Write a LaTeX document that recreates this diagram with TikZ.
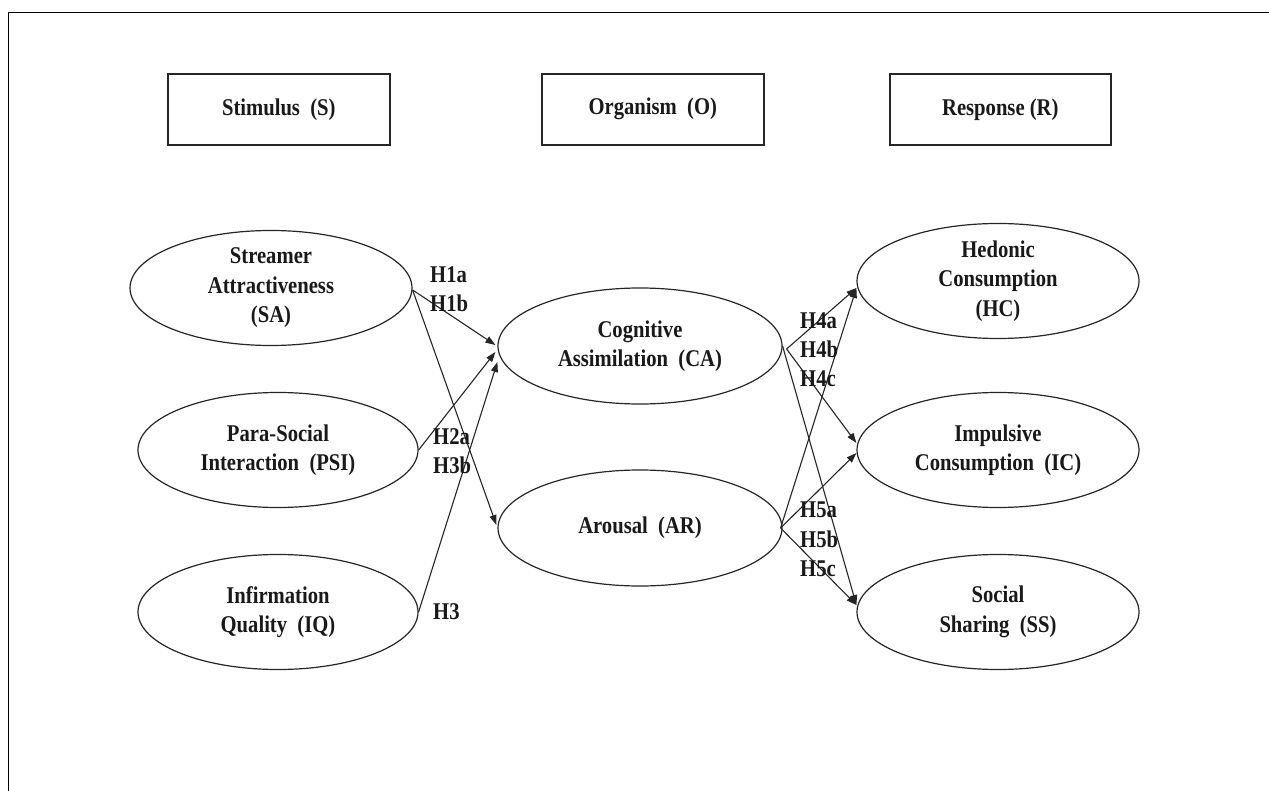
\documentclass[tikz,border=0pt]{standalone}
\usepackage{fontspec}
\newfontfamily\tnr{Liberation Serif}[FakeStretch=0.86]
\usetikzlibrary{shapes.geometric,arrows.meta,calc}
\begin{document}
\begin{tikzpicture}[x=1pt,y=-1pt,
  txt/.style={font=\tnr\bfseries\fontsize{24}{29.5}\selectfont, align=center, inner sep=0pt, text=black!90},
  hdr/.style={draw=black!85, line width=1.6pt, minimum width=222pt, minimum height=71pt, inner sep=0pt, anchor=north west, font=\tnr\bfseries\fontsize{24}{29.5}\selectfont, text=black!90},
  oval/.style={draw=black!85, ellipse, line width=1.2pt, minimum width=282pt, minimum height=115pt, inner sep=0pt},
  arr/.style={draw=black!85, line width=1.1pt, -{Triangle[length=10pt,width=7pt]}},
  hyp/.style={font=\tnr\bfseries\fontsize{24}{29.5}\selectfont, anchor=west, inner sep=0pt, text=black!90}]
\useasboundingbox (0,0) rectangle (1269,791);
\fill[white] (0,0) rectangle (1269,791);
% frame
\draw[line width=1.6pt] (8.5,791) -- (8.5,12.5) -- (1269,12.5);
% header boxes
\node[hdr] (S) at (167,73) {Stimulus\ \ (S)};
\node[hdr] (O) at (541,73) {Organism\ \ (O)};
\node[hdr, minimum width=221pt] (R) at (889,73) {Response (R)};
% ellipses
\node[oval] (SA) at (271,288) {};
\node[oval, minimum width=280pt] (PSI) at (278,450) {};
\node[oval, minimum width=280pt] (IQ) at (278,612) {};
\node[oval, minimum width=284pt, minimum height=116pt] (CA) at (640,346) {};
\node[oval, minimum width=284pt, minimum height=116pt] (AR) at (640,528) {};
\node[oval] (HC) at (998,281) {};
\node[oval] (IC) at (998,450) {};
\node[oval] (SS) at (998,612) {};
% texts
\node[txt] (SAt) at (SA.center) {Streamer\\Attractiveness\\(SA)};
\node[txt] (PSIt) at (PSI.center) {Para-Social\\Interaction\ \ (PSI)};
\node[txt] (IQt) at (IQ.center) {Infirmation\\Quality\ \ (IQ)};
\node[txt] (CAt) at (CA.center) {Cognitive\\Assimilation\ \ (CA)};
\node[txt] (ARt) at (AR.center) {Arousal\ \ (AR)};
\node[txt] (HCt) at (HC.center) {Hedonic\\Consumption\\(HC)};
\node[txt] (ICt) at (IC.center) {Impulsive\\Consumption\ \ (IC)};
\node[txt] (SSt) at (SS.center) {Social\\Sharing\ \ (SS)};
% arrows left
\draw[arr] ([yshift=-2pt]SA.east) -- ([xshift=-2pt,yshift=1pt]CA.west);
\draw[arr] ([yshift=-2pt]SA.east) -- ([xshift=-1pt,yshift=3pt]AR.west);
\draw[arr] (PSI.east) -- ([xshift=-2pt,yshift=-6pt]CA.west);
\draw[arr] (IQ.east) -- ([yshift=-16pt]CA.west);
% arrows right
\draw[arr] ([xshift=4pt,yshift=-3pt]CA.east) -- ([yshift=-7pt]HC.west);
\draw[arr] ([xshift=4pt,yshift=-3pt]CA.east) -- ([yshift=7pt]IC.west);
\draw[arr] (CA.east) -- ([yshift=7pt]SS.west);
\draw[arr] ([xshift=-2pt]AR.east) -- ([yshift=-7pt]HC.west);
\draw[arr] ([xshift=-2pt]AR.east) -- ([yshift=-3pt]IC.west);
\draw[arr] ([xshift=-2pt]AR.east) -- ([yshift=7pt]SS.west);
% hypothesis labels
\node[hyp] (h1a) at (430,275) {H1a};
\node[hyp] (h1b) at (430,303) {H1b};
\node[hyp] (h2a) at (433,437) {H2a};
\node[hyp] (h3b) at (433,465) {H3b};
\node[hyp] (h3) at (433,612) {H3};
\node[hyp] (h4a) at (800,321) {H4a};
\node[hyp] (h4b) at (800,349) {H4b};
\node[hyp] (h4c) at (800,379) {H4c};
\node[hyp] (h5a) at (800,510) {H5a};
\node[hyp] (h5b) at (800,539) {H5b};
\node[hyp] (h5c) at (800,569) {H5c};
\end{tikzpicture}
\end{document}
